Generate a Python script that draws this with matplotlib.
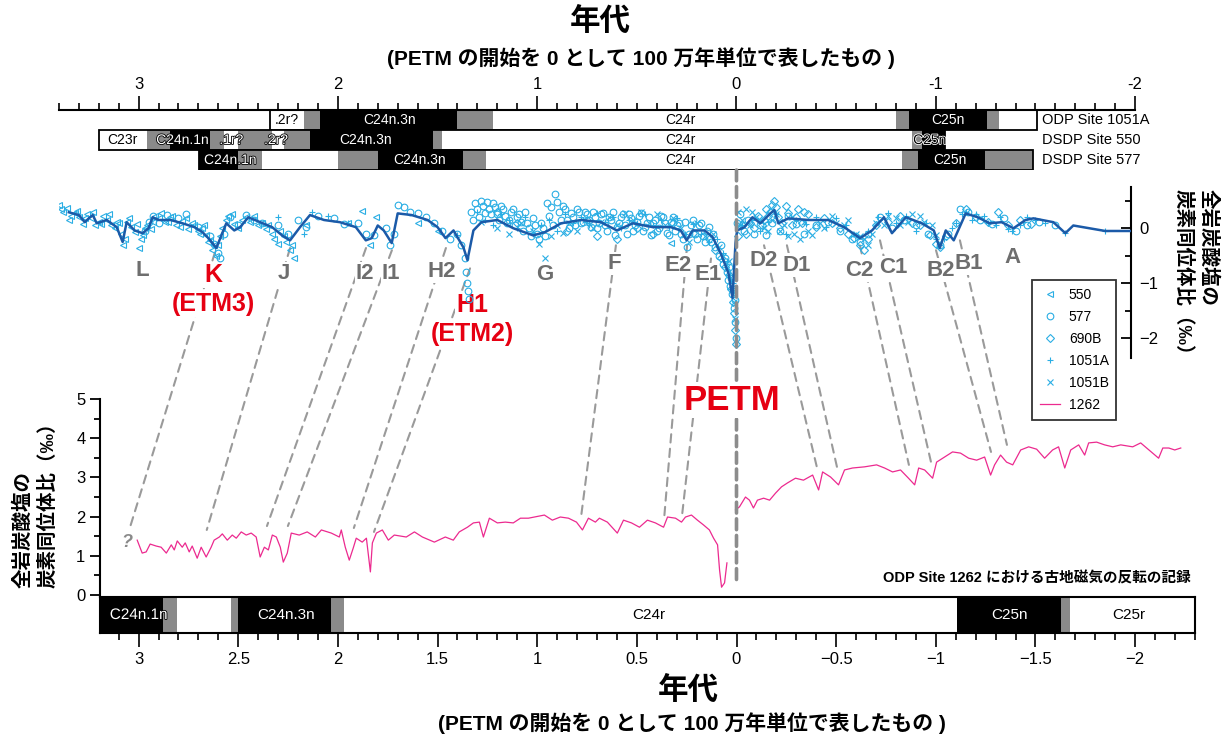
import numpy as np
import matplotlib.pyplot as plt
import matplotlib.patheffects as pe
from matplotlib.patches import ConnectionPatch, Rectangle
from matplotlib.ticker import MultipleLocator, FuncFormatter

plt.rcParams['font.family'] = ['Liberation Sans', 'Noto Sans CJK JP', 'DejaVu Sans']

nan = np.nan

# ---- upper panel: bulk carbonate d13C stack (smoothed line)
stack_age = [3.35, 3.30, 3.27, 3.25, 3.23, 3.21, 3.16, 3.11, 3.08, 3.06, 3.02, 2.98, 2.95, 2.93,
             2.90, 2.84, 2.78, 2.72, 2.68, 2.65, 2.61, 2.59, 2.56, 2.52, 2.49, 2.45, 2.39, 2.33,
             2.28, 2.24, 2.19, 2.14, 2.07, 1.99, 1.91, 1.86, 1.83, 1.80, 1.77, 1.73, 1.70, 1.63,
             1.55, 1.50, 1.46, 1.42, 1.37, 1.35, 1.32, 1.28, 1.20, 1.12, 1.02, 0.96, 0.88, 0.78,
             0.68, 0.60, 0.52, 0.42, 0.33, 0.28, 0.25, 0.22, 0.16, 0.12, 0.08, 0.04, 0.02, 0.005,
             -0.003, -0.04, -0.08, -0.12, -0.17, -0.19, -0.21, -0.26, -0.36, -0.46, -0.54, -0.62,
             -0.68, -0.74, -0.78, -0.85, -0.93, -0.99, -1.02, -1.05, -1.09, -1.15, -1.21, -1.27,
             -1.33, -1.39, -1.45, -1.49, -1.59, -1.65, -1.69, -1.85, -1.98]
stack_d13c = [0.29, 0.24, 0.11, 0.18, 0.24, 0.09, 0.15, 0.02, -0.25, 0.11, -0.04, -0.09, 0.0, 0.20,
              0.15, 0.15, 0.09, 0.02, -0.07, -0.18, -0.36, -0.18, 0.09, -0.04, 0.02, 0.20, 0.11, 0.02,
              -0.13, -0.22, 0.02, 0.24, 0.15, 0.11, 0.02, -0.22, -0.18, 0.05, -0.04, -0.27, 0.27, 0.24,
              0.15, 0.02, -0.18, -0.04, -0.35, -0.58, -0.04, 0.11, 0.15, 0.0, -0.13, -0.07, 0.09, 0.15,
              0.11, -0.04, 0.09, 0.02, 0.02, -0.04, -0.22, -0.04, -0.04, -0.16, -0.45, -0.82, -1.27, -0.27,
              -0.04, 0.02, 0.20, 0.09, 0.27, 0.33, 0.09, 0.18, 0.15, 0.15, 0.02, -0.18,
              -0.04, 0.20, -0.09, 0.20, 0.09, -0.04, -0.36, -0.04, -0.22, 0.27, 0.20, 0.09,
              0.11, 0.0, 0.15, 0.18, 0.11, -0.09, 0.05, -0.05, -0.05]

# ---- upper panel: individual sites
site_names = ['550', '577', '690B', '1051A', '1051B']
site_markers = ['<', 'o', 'D', '+', 'x']

age_550 = [3.40, 3.38, 3.36, 3.34, 3.32, 3.30, 3.28, 3.26, 3.24, 3.22, 3.20, 3.18, 3.16, 3.14, 3.12,
           3.10, 3.08, 3.06, 3.04, 3.02, 3.00, 2.98, 2.96, 2.94, 2.92, 2.90, 2.87, 2.84, 2.81, 2.78,
           2.75, 2.72, 2.70, 2.68, 2.66, 2.64, 2.62, 2.58, 2.55, 2.52, 2.48, 2.44, 2.40, 2.36, 2.33,
           2.30, 2.27, 2.24, 2.22, 2.16, 1.95, 1.88, 1.84, 1.81, 1.60, 1.50, 0.33,
           3.39, 3.35, 3.31, 3.27, 3.23, 3.19, 3.15, 3.11, 3.09, 3.07, 3.05, 3.01, 2.99, 2.97, 2.93,
           2.89, 2.85, 2.83, 2.79, 2.76, 2.73, 2.69, 2.67, 2.65, 2.63, 2.61, 2.60, 2.59, 2.56, 2.53,
           2.50, 2.46, 2.42, 2.38, 2.35, 2.32, 2.29, 2.26, 2.23]
d13c_550 = [0.42, 0.30, 0.36, 0.22, 0.28, 0.20, 0.08, 0.25, 0.18, 0.05, 0.12, 0.22, 0.15, 0.05, 0.00,
            0.10, -0.30, 0.12, 0.02, -0.06, -0.36, -0.12, 0.05, -0.02, 0.22, 0.18, 0.12, 0.20, 0.05, 0.14,
            -0.02, 0.05, -0.05, 0.00, -0.12, -0.22, -0.30, 0.00, 0.22, 0.08, 0.15, 0.12, 0.05, -0.02, -0.10,
            -0.28, -0.15, -0.40, -0.55, 0.05, 0.10, 0.32, -0.30, 0.20, 0.10, -0.05, -0.27,
            0.35, 0.15, 0.32, 0.18, 0.30, 0.08, 0.25, 0.12, -0.10, -0.20, 0.18, 0.08, -0.20, 0.00, 0.12,
            0.28, 0.12, 0.22, 0.02, 0.18, 0.10, -0.10, 0.05, -0.25, -0.40, -0.50, -0.30, -0.15, 0.15, 0.25,
            0.00, 0.20, 0.22, 0.10, 0.05, -0.20, -0.05, -0.25, -0.30]

age_577 = [2.97, 2.95, 2.93, 2.90, 2.86, 2.80, 2.76, 2.70, 2.64, 2.62, 2.60, 2.59, 2.57, 2.54, 2.50,
           2.46, 2.42, 2.38, 2.30, 2.25, 2.20, 2.16, 2.10, 2.02, 1.97, 1.90, 1.86, 1.82, 1.76, 1.74,
           1.72, 1.70, 1.67, 1.64, 1.60, 1.56, 1.52, 1.48, 1.44, 1.40, 1.38, 1.36, 1.355, 1.35, 1.345,
           1.34, 1.33, 1.31, 1.29, 1.27, 1.25, 1.23, 1.21, 1.19, 1.17, 1.15, 1.13, 1.11, 1.09, 1.07,
           1.05, 1.03, 1.01, 0.99, 0.97, 0.95, 0.93, 0.91, 0.89, 0.87, 0.85, 0.83, 0.81, 0.79, 0.77,
           0.75, 0.73, 0.71, 0.69, 0.67, 0.65, 0.63, 0.61, 0.59, 0.57, 0.55, 0.53, 0.51, 0.49, 0.47,
           0.45, 0.43, 0.41, 0.39, 0.37, 0.35, 0.33, 0.31, 0.29, 0.27, 0.25, 0.23, 0.21, 0.19, 0.17,
           0.15, 0.13, 0.11, 0.09, 0.08, 0.07, 0.06, 0.05, 0.045, 0.04, 0.035, 0.03, 0.025, 0.02, 0.015,
           0.01, 0.006, 0.003, -0.005, -0.02, -0.04, -0.06, -0.09, -0.12, -0.15, -0.18, -0.22, -0.26,
           -0.30, -0.34, -0.40, -0.46, -0.52, -0.58, -0.62, -0.66, -0.72, -0.78, -0.84, -0.90, -0.96,
           -1.02, -1.06, -1.12, -1.16, -1.22, -1.28, -1.34, -1.40, -1.46, -1.52, -1.60,
           1.32, 1.30, 1.28, 1.26, 1.24, 1.22, 1.20, 1.18, 1.16, 1.14, 1.12, 1.10, 1.08, 1.06, 1.04,
           1.02, 1.00, 0.98, 0.96, 0.94, 0.92, 0.90, 0.88, 0.86, 0.84, 0.82, 0.80, 0.78, 0.76, 0.74,
           0.72, 0.70, 0.68, 0.66, 0.64, 0.62, 0.60, 0.58, 0.56, 0.54, 0.52, 0.50, 0.48, 0.46, 0.44,
           0.42, 0.40, 0.38, 0.36, 0.34, 0.32, 0.30, 0.28, 0.26, 0.24, 0.22, 0.20, 0.18, 0.16, 0.14, 0.12]
d13c_577 = [-0.05, 0.12, 0.22, 0.10, 0.24, 0.18, 0.25, 0.02, -0.15, -0.28, -0.45, -0.55, -0.10, 0.20, 0.05,
            0.24, 0.15, 0.10, 0.05, -0.10, 0.15, 0.02, 0.22, 0.18, 0.08, 0.10, -0.10, -0.12, 0.00, -0.30,
            -0.10, 0.42, 0.38, 0.30, 0.28, 0.20, 0.10, -0.05, -0.20, -0.10, -0.30, -0.55, -0.80, -1.00, -1.15,
            -1.28, 0.30, 0.45, 0.20, 0.40, 0.48, 0.25, 0.38, 0.15, 0.35, 0.10, 0.30, 0.05, 0.25, -0.05,
            0.10, -0.15, 0.05, -0.20, 0.00, 0.45, 0.38, 0.62, 0.30, 0.40, 0.15, 0.28, 0.05, 0.30, 0.12,
            0.25, 0.02, 0.20, 0.10, 0.28, -0.05, 0.15, -0.12, 0.10, 0.25, -0.10, 0.18, 0.05, 0.22, -0.05,
            0.10, -0.12, 0.15, 0.00, 0.20, -0.08, 0.12, -0.05, 0.10, -0.20, -0.35, 0.05, -0.10, 0.05, -0.15,
            -0.05, -0.25, -0.35, -0.50, -0.30, -0.65, -0.55, -0.80, -0.95, -0.70, -1.05, -0.90, -1.20, -1.10, -1.45,
            -1.30, -1.70, -2.00, 0.10, 0.25, -0.05, 0.15, -0.10, 0.05, -0.12, 0.10, -0.05, 0.22,
            0.08, -0.10, 0.05, 0.12, -0.05, -0.20, -0.25, -0.10, 0.20, 0.00, 0.15, 0.05, -0.10,
            -0.30, -0.10, 0.35, 0.30, 0.15, 0.08, 0.18, -0.05, 0.05, 0.12, 0.05,
            0.15, 0.35, 0.50, 0.28, 0.35, 0.45, 0.25, 0.40, 0.22, 0.15, 0.35, 0.20, 0.12, 0.30, 0.00,
            0.18, -0.10, 0.10, -0.15, 0.22, 0.05, 0.48, 0.15, 0.35, 0.00, 0.20, 0.35, 0.10, 0.30, 0.15,
            0.30, 0.00, 0.25, 0.05, 0.20, 0.30, 0.02, 0.20, 0.05, 0.25, -0.05, 0.12, 0.28, 0.02, 0.20,
            0.10, -0.05, 0.22, 0.10, -0.12, 0.20, 0.05, -0.10, 0.12, -0.10, 0.15, -0.20, 0.10, -0.25, 0.02, -0.10]

age_690b = [1.20, 1.10, 0.85, 0.75, 0.70, 0.60, 0.50, 0.42, 0.32, 0.22, 0.14, 0.11, 0.08, 0.06, 0.04,
            0.03, 0.02, 0.012, 0.008, 0.002, -0.01, -0.03, -0.05, -0.07, -0.09, -0.11, -0.13, -0.15,
            -0.17, -0.19, -0.21, -0.23, -0.25, -0.28, -0.31, -0.33, -0.36, -0.40, -0.44, -0.48, -0.52,
            -0.56, -0.59, -0.62, -0.64, -0.66, -0.70, -0.76, -0.82, -0.88, -0.92, -0.97, -1.00, -1.02,
            -1.05, -1.10, -1.15, -1.20, -1.26, -1.31, -1.36, -1.42, -1.48,
            -0.14, -0.16, -0.18, -0.20, -0.26, -0.30, -0.34]
d13c_690b = [0.30, 0.10, -0.05, 0.15, -0.15, -0.20, 0.00, -0.10, 0.10, -0.08, -0.20, -0.40, -0.55, -0.70, -0.85,
             -1.10, -1.35, -1.55, -1.85, -2.10, -0.15, 0.05, -0.10, 0.10, 0.00, 0.22, 0.05, 0.35,
             0.30, 0.50, 0.20, 0.10, 0.40, 0.05, 0.35, 0.10, 0.25, 0.02, 0.18, 0.10, 0.00,
             -0.10, -0.18, -0.30, -0.40, -0.20, 0.05, 0.12, 0.22, 0.10, 0.05, -0.12, -0.28, -0.35,
             -0.15, 0.10, 0.35, 0.20, 0.12, 0.30, 0.05, 0.15, 0.08,
             0.15, 0.22, 0.42, 0.38, 0.28, 0.20, 0.30]

age_1051a = [2.30, 2.17, 2.13, 2.05, 1.95, 1.40, 1.30, 1.26, 1.22, 1.18, 1.14, 1.10, 1.06, 1.02, 0.98,
             0.94, 0.90, 0.86, 0.82, 0.78, 0.74, 0.70, 0.66, 0.62, 0.58, 0.54, 0.50, 0.46, 0.42, 0.38,
             0.34, 0.30, 0.26, 0.22, 0.18, 0.14, 0.10, 0.07, 0.05, 0.035, 0.02, -0.03, -0.08, -0.12,
             -0.16, -0.20, -0.25, -0.30, -0.35, -0.40, -0.45, -0.50, -0.55, -0.60, -0.66, -0.71, -0.76,
             -0.80, -0.85, -0.90, -0.95, -1.00, -1.08, -1.13, -1.18, -1.24, -1.30, -1.38, -1.44, -1.50,
             -1.65, -1.85,
             -1.04, -1.10, -1.15, -1.20, -1.26, -1.32, -1.36, -1.42, -1.46, -1.55]
d13c_1051a = [0.20, -0.10, 0.30, 0.22, 0.10, -0.12, 0.30, 0.15, 0.05, 0.25, 0.15, 0.00, 0.20, -0.10, 0.05,
              0.15, -0.05, 0.25, 0.10, 0.20, 0.05, 0.28, 0.12, 0.20, 0.00, 0.15, 0.10, 0.25, 0.05, 0.15,
              0.02, 0.18, -0.10, 0.08, -0.10, -0.25, -0.20, -0.45, -0.60, -0.85, -1.00, 0.05, 0.15, -0.05,
              0.12, 0.25, -0.10, 0.15, 0.08, 0.20, 0.02, 0.18, 0.05, -0.12, -0.05, 0.20, 0.28,
              0.10, 0.22, -0.05, 0.10, -0.20, 0.00, 0.25, 0.15, 0.22, 0.05, -0.05, 0.12, 0.15,
              -0.08, -0.05,
              -0.20, 0.10, 0.30, 0.25, 0.10, 0.20, -0.02, 0.05, 0.20, 0.10]

age_1051b = [1.28, 1.20, 1.14, 1.08, 1.02, 0.99, 0.96, 0.93, 0.90, 0.87, 0.84, 0.80, 0.76, 0.72, 0.68,
             0.64, 0.60, 0.56, 0.52, 0.48, 0.44, 0.40, 0.36, 0.32, 0.28, 0.24, 0.20, 0.16, 0.12, 0.09,
             0.07, 0.05, 0.04, 0.03, 0.02, 0.012, 0.006, -0.01, -0.03, -0.05, -0.07, -0.10, -0.14, -0.18,
             -0.22, -0.26, -0.29, -0.32, -0.36, -0.42, -0.48, -0.54, -0.60, -0.64, -0.68, -0.74, -0.80,
             -0.86, -0.92, -0.98,
             -0.02, -0.08, -0.12, -0.16, -0.20, -0.24, -0.28, -0.34, -0.38, -0.44, -0.50, -0.56, -0.62,
             -0.66, -0.70, -0.76, -0.82, -0.88, -0.94, -1.00]
d13c_1051b = [0.12, 0.00, -0.10, 0.10, -0.05, -0.28, -0.55, -0.15, 0.05, -0.08, 0.10, -0.05, 0.15, 0.00, 0.12,
              0.20, 0.05, 0.28, 0.15, 0.30, 0.10, 0.25, 0.05, 0.18, 0.00, -0.25, 0.10, -0.15, -0.10, -0.35,
              -0.50, -0.70, -0.60, -0.95, -1.20, -1.35, -1.65, 0.30, 0.15, 0.35, 0.05, 0.20, 0.00, 0.15,
              -0.05, -0.15, -0.10, -0.20, -0.05, 0.10, 0.22, 0.05, -0.10, -0.20, -0.10, 0.05, 0.18,
              0.12, 0.22, 0.05,
              0.05, 0.30, 0.15, -0.05, 0.25, 0.05, 0.20, 0.12, -0.12, 0.00, 0.10, 0.15, -0.15,
              -0.30, 0.10, 0.22, 0.05, 0.25, 0.12, -0.12]

# ---- lower panel: ODP Site 1262
age_1262 = [3.007, 2.982, 2.962, 2.942, 2.912, 2.887, 2.861, 2.836, 2.821, 2.806, 2.781, 2.766, 2.746,
            2.731, 2.706, 2.686, 2.661, 2.636, 2.621, 2.595, 2.580, 2.555, 2.530, 2.510, 2.485, 2.460,
            2.435, 2.410, 2.390, 2.369, 2.349, 2.329, 2.309, 2.289, 2.274, 2.254, 2.234, 2.194, 2.154,
            2.113, 2.083, 2.033, 1.993, 1.983, 1.963, 1.943, 1.923, 1.908, 1.878, 1.857, 1.837, 1.827,
            1.807, 1.777, 1.747, 1.717, 1.657, 1.616, 1.576, 1.516, 1.461, 1.421, 1.391, 1.350, 1.320,
            1.290, 1.270, 1.240, 1.200, 1.160, 1.120, 1.084, 1.044, 0.964, 0.924, 0.884, 0.843, 0.803,
            0.773, 0.743, 0.708, 0.688, 0.648, 0.598, 0.567, 0.527, 0.487, 0.447, 0.407, 0.366, 0.346,
            0.306, 0.276, 0.256, 0.226, 0.196, 0.166, 0.136, 0.115, 0.095, 0.085, 0.075, 0.060, 0.048,
            nan, 0.005, -0.015, -0.045, -0.065, -0.085, -0.105, -0.136, -0.166, -0.196, -0.226, -0.256,
            -0.296, -0.336, -0.382, -0.412, -0.432, -0.472, -0.512, -0.542, -0.582, -0.643, -0.703,
            -0.743, -0.783, -0.823, -0.863, -0.894, -0.914, -0.944, -0.984, -1.004, -1.044, -1.084,
            -1.124, -1.165, -1.205, -1.245, -1.275, -1.295, -1.325, -1.355, -1.386, -1.426, -1.466,
            -1.506, -1.546, -1.586, -1.616, -1.647, -1.677, -1.717, -1.747, -1.767, -1.807, -1.847,
            -1.888, -1.928, -1.988, -2.028, -2.058, -2.088, -2.118, -2.139, -2.169, -2.199, -2.229]
d13c_1262 = [1.40, 1.07, 1.10, 1.30, 1.25, 1.22, 1.07, 1.28, 1.15, 1.38, 1.22, 1.33, 1.10,
             1.25, 0.94, 1.22, 0.97, 1.22, 1.40, 1.48, 1.56, 1.40, 1.53, 1.45, 1.61, 1.53,
             1.58, 1.48, 0.97, 1.22, 1.15, 1.53, 1.48, 1.22, 0.84, 1.07, 1.58, 1.53, 1.61,
             1.48, 1.66, 1.58, 1.48, 1.66, 1.22, 0.89, 1.20, 1.45, 1.35, 1.45, 0.59, 1.33,
             1.58, 1.66, 1.40, 1.53, 1.48, 1.61, 1.48, 1.35, 1.48, 1.40, 1.61, 1.73, 1.84,
             1.86, 1.48, 1.96, 1.84, 1.86, 1.84, 1.96, 1.96, 2.04, 1.91, 1.99, 1.96, 1.86,
             1.66, 1.96, 1.86, 1.96, 1.86, 1.58, 1.91, 1.84, 1.73, 1.91, 1.84, 1.73, 1.99,
             1.96, 1.86, 1.99, 2.04, 1.91, 1.79, 1.66, 1.45, 1.28, 0.64, 0.20, 0.31, 0.82,
             nan, 2.17, 2.25, 2.50, 2.42, 2.22, 2.42, 2.47, 2.42, 2.60, 2.76, 2.86,
             2.98, 2.93, 3.06, 2.68, 3.14, 3.01, 2.81, 3.19, 3.24, 3.27, 3.32,
             3.24, 3.14, 3.19, 2.98, 2.81, 3.24, 3.19, 2.98, 3.39, 3.52, 3.65,
             3.62, 3.49, 3.44, 3.52, 3.06, 3.32, 3.57, 3.39, 3.32, 3.70, 3.78,
             3.72, 3.49, 3.70, 3.78, 3.24, 3.70, 3.83, 3.57, 3.88, 3.90, 3.83,
             3.78, 3.83, 3.78, 3.88, 3.75, 3.62, 3.49, 3.75, 3.75, 3.70, 3.75]

# ---- correlated events: upper record (age, d13C) -> 1262 record (age, d13C)
event_names = ['K', 'J', 'I2', 'I1', 'H2', 'H1', 'F', 'E2', 'E1', 'D2', 'D1', 'C2', 'C1', 'B2', 'B1']
event_up_age = [2.617, 2.240, 1.859, 1.729, 1.458, 1.337, 0.605, 0.248, 0.128,
                -0.138, -0.253, -0.619, -0.720, -1.001, -1.121]
event_up_d13c = [-0.44, -0.36, -0.36, -0.40, -0.36, -0.73, -0.31, -0.31, -0.55,
                 -0.31, -0.31, -0.31, -0.22, -0.40, -0.22]
event_low_age = [3.043, 2.658, 2.356, 2.251, 1.920, 1.819, 0.780, 0.363, 0.273,
                 -0.409, -0.504, -0.865, -0.976, -1.277, -1.357]
event_low_d13c = [1.73, 1.66, 1.76, 1.76, 1.71, 1.61, 1.99, 1.96, 2.04,
                  3.14, 3.27, 3.32, 3.39, 3.65, 3.83]

# ---- magnetochrons: (older age, younger age, kind)  n=normal, r=reversed, u=uncertain
row_names = ['ODP Site 1051A', 'DSDP Site 550', 'DSDP Site 577']
chron_1051a = [(2.34, 2.17, 'r'), (2.17, 2.09, 'u'), (2.09, 1.40, 'n'), (1.40, 1.224, 'u'),
               (1.224, -0.80, 'r'), (-0.80, -0.865, 'u'), (-0.865, -1.255, 'n'), (-1.255, -1.316, 'u'),
               (-1.316, -1.507, 'r')]
chron_550 = [(3.20, 2.96, 'r'), (2.96, 2.84, 'u'), (2.84, 2.64, 'n'), (2.64, 2.57, 'u'),
             (2.57, 2.50, 'r'), (2.50, 2.33, 'u'), (2.33, 2.27, 'r'), (2.27, 2.14, 'u'),
             (2.14, 1.524, 'n'), (1.524, 1.476, 'u'), (1.476, -0.88, 'r'), (-0.88, -0.93, 'u'),
             (-0.93, -1.046, 'n')]
chron_577 = [(2.696, 2.50, 'n'), (2.50, 2.38, 'u'), (2.38, 2.00, 'r'), (2.00, 1.80, 'u'),
             (1.80, 1.37, 'n'), (1.37, 1.256, 'u'), (1.256, -0.83, 'r'), (-0.83, -0.91, 'u'),
             (-0.91, -1.247, 'n'), (-1.247, -1.487, 'u')]
chron_1262 = [(3.20, 2.876, 'n'), (2.876, 2.806, 'u'), (2.806, 2.535, 'r'), (2.535, 2.50, 'u'),
              (2.50, 2.033, 'n'), (2.033, 1.968, 'u'), (1.968, -1.104, 'r'), (-1.104, -1.627, 'n'),
              (-1.627, -1.672, 'u'), (-1.672, -2.30, 'r')]

names_1051a = [('.2r?', 2.255, 'k'), ('C24n.3n', 1.74, 'w'), ('C24r', 0.28, 'k'), ('C25n', -1.06, 'w')]
names_550 = [('C23r', 3.08, 'k'), ('C24n.1n', 2.78, 'wo'), ('.1r?', 2.535, 'wo'), ('.2r?', 2.31, 'wo'),
             ('C24n.3n', 1.86, 'w'), ('C24r', 0.28, 'k'), ('C25n', -0.97, 'ko')]
names_577 = [('C24n.1n', 2.54, 'wo'), ('C24n.3n', 1.59, 'w'), ('C24r', 0.28, 'k'), ('C25n', -1.07, 'w')]
names_1262 = [('C24n.1n', 3.0, 'wo'), ('C24n.3n', 2.26, 'w'), ('C24r', 0.44, 'k'),
              ('C25n', -1.37, 'w'), ('C25r', -1.97, 'k')]

# ---- layout helpers (pixel positions of the original figure)
W, H = 1229, 740
X0, PX_MA = 736.5, 199.3


def age_at(px):
    return (X0 - px) / PX_MA


def px_at(age):
    return X0 - age * PX_MA


def fig_box(l, t, r, b):
    return [l / W, 1 - b / H, (r - l) / W, (b - t) / H]


def fxy(px, py):
    return px / W, 1 - py / H


CYAN = '#2aaee4'
NAVY = '#1b5aa8'
PINK = '#ec2a8f'
GREY = '#6e6e6e'
RED = '#e60012'
DASH = '#9a9a9a'
CHRON = {'n': 'black', 'r': 'white', 'u': '#8a8a8a'}

minus_fmt = FuncFormatter(lambda v, p: f'{v + 0:g}'.replace('-', '\u2212'))
hyphen_fmt = FuncFormatter(lambda v, p: f'{v + 0:g}')


def draw_chrons(ax, segs, names, y0, h, fs):
    for old, young, kind in segs:
        ax.broken_barh([(young, old - young)], (y0, h), facecolors=CHRON[kind], edgecolor='none')
    ax.add_patch(Rectangle((segs[-1][1], y0), segs[0][0] - segs[-1][1], h,
                           fill=False, ec='black', lw=1.3))
    for txt, a, style in names:
        col = 'white' if style.startswith('w') else 'black'
        t = ax.text(a, y0 + h / 2, txt, ha='center', va='center', fontsize=fs, color=col)
        if style.endswith('o'):
            edge = 'black' if col == 'white' else 'white'
            t.set_path_effects([pe.withStroke(linewidth=1.2, foreground=edge)])


fig = plt.figure(figsize=(W / 100, H / 100), dpi=100)

# ---- top age axis + magnetochron rows
ax_mag = fig.add_axes(fig_box(px_at(3.4), 110, px_at(-2.0), 170))
ax_mag.set_xlim(3.4, -2.0)
ax_mag.set_ylim(3, 0)
ax_mag.patch.set_visible(False)
for s in ['left', 'right', 'bottom']:
    ax_mag.spines[s].set_visible(False)
ax_mag.spines['top'].set_linewidth(1.5)
ax_mag.xaxis.tick_top()
ax_mag.xaxis.set_major_locator(MultipleLocator(1))
ax_mag.xaxis.set_minor_locator(MultipleLocator(0.1))
ax_mag.xaxis.set_major_formatter(hyphen_fmt)
ax_mag.tick_params(axis='x', which='major', direction='out', length=10, width=1.2, labelsize=12, pad=3)
ax_mag.tick_params(axis='x', which='minor', direction='out', length=5, width=1.2)
ax_mag.set_yticks([])
for i, (segs, names) in enumerate([(chron_1051a, names_1051a), (chron_550, names_550),
                                   (chron_577, names_577)]):
    draw_chrons(ax_mag, segs, names, i, 1, 10)
    ax_mag.text(age_at(1042), i + 0.5, row_names[i], ha='left', va='center', fontsize=10.5)

# ---- upper panel
ax_up = fig.add_axes(fig_box(59, 187, 1131, 358), zorder=3)
ax_up.set_xlim(age_at(59), age_at(1131))
ax_up.set_ylim(-2.36, 0.75)
ax_up.patch.set_visible(False)
for s in ['left', 'top', 'bottom']:
    ax_up.spines[s].set_visible(False)
ax_up.spines['right'].set_linewidth(1.5)
ax_up.set_xticks([])
ax_up.yaxis.tick_right()
ax_up.yaxis.set_major_locator(MultipleLocator(1))
ax_up.yaxis.set_minor_locator(MultipleLocator(0.5))
ax_up.yaxis.set_major_formatter(minus_fmt)
ax_up.tick_params(axis='y', which='major', direction='in', length=7, width=1.3, labelsize=12, pad=6)
ax_up.tick_params(axis='y', which='minor', direction='in', length=4, width=1.3)

site_data = [(age_550, d13c_550), (age_577, d13c_577), (age_690b, d13c_690b),
             (age_1051a, d13c_1051a), (age_1051b, d13c_1051b)]
handles = []
for name, mk, (a, v) in zip(site_names, site_markers, site_data):
    h, = ax_up.plot(a, v, ls='none', marker=mk, ms=4.8 if mk != 'D' else 3.8, mfc='none',
                    mec=CYAN, mew=0.8, label=name, zorder=4)
    handles.append(h)
ax_up.plot(stack_age, stack_d13c, color=NAVY, lw=1.8, zorder=5)

label_specs = [('L', 2.983, -0.76, GREY, 16), ('K', 2.627, -0.85, RED, 18), ('(ETM3)', 2.627, -1.38, RED, 18),
               ('J', 2.270, -0.82, GREY, 16), ('I2', 1.864, -0.82, GREY, 16), ('I1', 1.734, -0.82, GREY, 16),
               ('H2', 1.478, -0.78, GREY, 16), ('H1', 1.327, -1.40, RED, 18), ('(ETM2)', 1.327, -1.92, RED, 18),
               ('G', 0.961, -0.85, GREY, 16), ('F', 0.615, -0.64, GREY, 16), ('E2', 0.294, -0.67, GREY, 16),
               ('E1', 0.143, -0.85, GREY, 16), ('D2', -0.138, -0.58, GREY, 16), ('D1', -0.304, -0.67, GREY, 16),
               ('C2', -0.615, -0.76, GREY, 16), ('C1', -0.785, -0.71, GREY, 16), ('B2', -1.026, -0.76, GREY, 16),
               ('B1', -1.167, -0.64, GREY, 16), ('A', -1.387, -0.53, GREY, 16)]
for txt, a, v, col, fs in label_specs:
    ax_up.text(a, v, txt, ha='center', va='center', color=col, fontsize=fs, fontweight='bold',
               zorder=3, bbox=dict(boxstyle='square,pad=0.05', fc='white', ec='none'))

# ---- lower panel
ax_low = fig.add_axes(fig_box(100, 399, 1195, 597), zorder=1)
ax_low.set_xlim(age_at(100), age_at(1195))
ax_low.set_ylim(-0.05, 5)
ax_low.patch.set_visible(False)
for s in ['right', 'top', 'bottom']:
    ax_low.spines[s].set_visible(False)
ax_low.spines['left'].set_linewidth(1.5)
ax_low.set_xticks([])
ax_low.yaxis.set_major_locator(MultipleLocator(1))
ax_low.yaxis.set_minor_locator(MultipleLocator(0.5))
ax_low.tick_params(axis='y', which='major', direction='out', length=7, width=1.3, labelsize=12)
ax_low.tick_params(axis='y', which='minor', direction='out', length=4, width=1.3)
h1262, = ax_low.plot(age_1262, d13c_1262, color=PINK, lw=0.9, label='1262')
handles.append(h1262)
ax_low.text(age_at(127), 1.33, '?', color='#8a8a8a', fontsize=13, fontweight='bold', style='italic',
            ha='center', va='center')

# ---- bottom magnetochron bar + age axis
ax_bar = fig.add_axes(fig_box(100, 597, 1195, 633))
ax_bar.set_xlim(age_at(100), age_at(1195))
ax_bar.set_ylim(0, 1)
draw_chrons(ax_bar, chron_1262, names_1262, 0, 1, 11)
for s in ax_bar.spines.values():
    s.set_linewidth(1.5)
ax_bar.set_yticks([])
ax_bar.xaxis.set_major_locator(MultipleLocator(0.5))
ax_bar.xaxis.set_minor_locator(MultipleLocator(0.1))
ax_bar.xaxis.set_major_formatter(minus_fmt)
ax_bar.tick_params(axis='x', which='major', direction='out', length=10, width=1.2, labelsize=12, pad=4)
ax_bar.tick_params(axis='x', which='minor', direction='out', length=5, width=1.2)

# ---- correlation lines
for ua, uv, la, lv in zip(event_up_age, event_up_d13c, event_low_age, event_low_d13c):
    fig.add_artist(ConnectionPatch((ua, uv), (la, lv), coordsA=ax_up.transData, coordsB=ax_low.transData,
                                   color=DASH, lw=1.5, ls=(0, (4, 3)), zorder=2))
fig.add_artist(ConnectionPatch((0, 3), (0, 0.25), coordsA=ax_mag.transData, coordsB=ax_low.transData,
                               color='#8c8c8c', lw=2.6, ls=(0, (3, 1.6)), zorder=4))

fig.text(*fxy(732, 400), 'PETM', color=RED, fontsize=25, fontweight='bold', ha='center', va='center',
         zorder=7, bbox=dict(boxstyle='square,pad=0.05', fc='white', ec='none'))

leg = fig.legend(handles, site_names + ['1262'], loc='upper left', bbox_to_anchor=fxy(1032, 280),
                 bbox_transform=fig.transFigure, borderaxespad=0, fontsize=10, frameon=True,
                 fancybox=False, edgecolor='black', handlelength=1.5, labelspacing=0.58,
                 handletextpad=0.6, borderpad=0.55)
leg.get_frame().set_linewidth(1.3)
leg.set_zorder(8)

# ---- titles / axis labels
subtitle = '(PETM の開始を 0 として 100 万年単位で表したもの )'
fig.text(*fxy(600, 22), '年代', ha='center', va='center', fontsize=22, fontweight='bold')
fig.text(*fxy(641, 58), subtitle, ha='center', va='center', fontsize=15, fontweight='bold')
fig.text(*fxy(688, 691), '年代', ha='center', va='center', fontsize=22, fontweight='bold')
fig.text(*fxy(692, 723), subtitle, ha='center', va='center', fontsize=15, fontweight='bold')

ylab = '全岩炭酸塩の\n炭素同位体比（‰）'
fig.text(*fxy(1196, 189), ylab, rotation=-90, ha='center', va='top', multialignment='left',
         fontsize=14, fontweight='bold', linespacing=1.4)
fig.text(*fxy(35, 588), ylab, rotation=90, ha='center', va='bottom', multialignment='left',
         fontsize=14, fontweight='bold', linespacing=1.4)
fig.text(*fxy(1191, 578), 'ODP Site 1262 における古地磁気の反転の記録', ha='right', va='center',
         fontsize=10.5, fontweight='bold')

fig.savefig('out.png', dpi=100)
